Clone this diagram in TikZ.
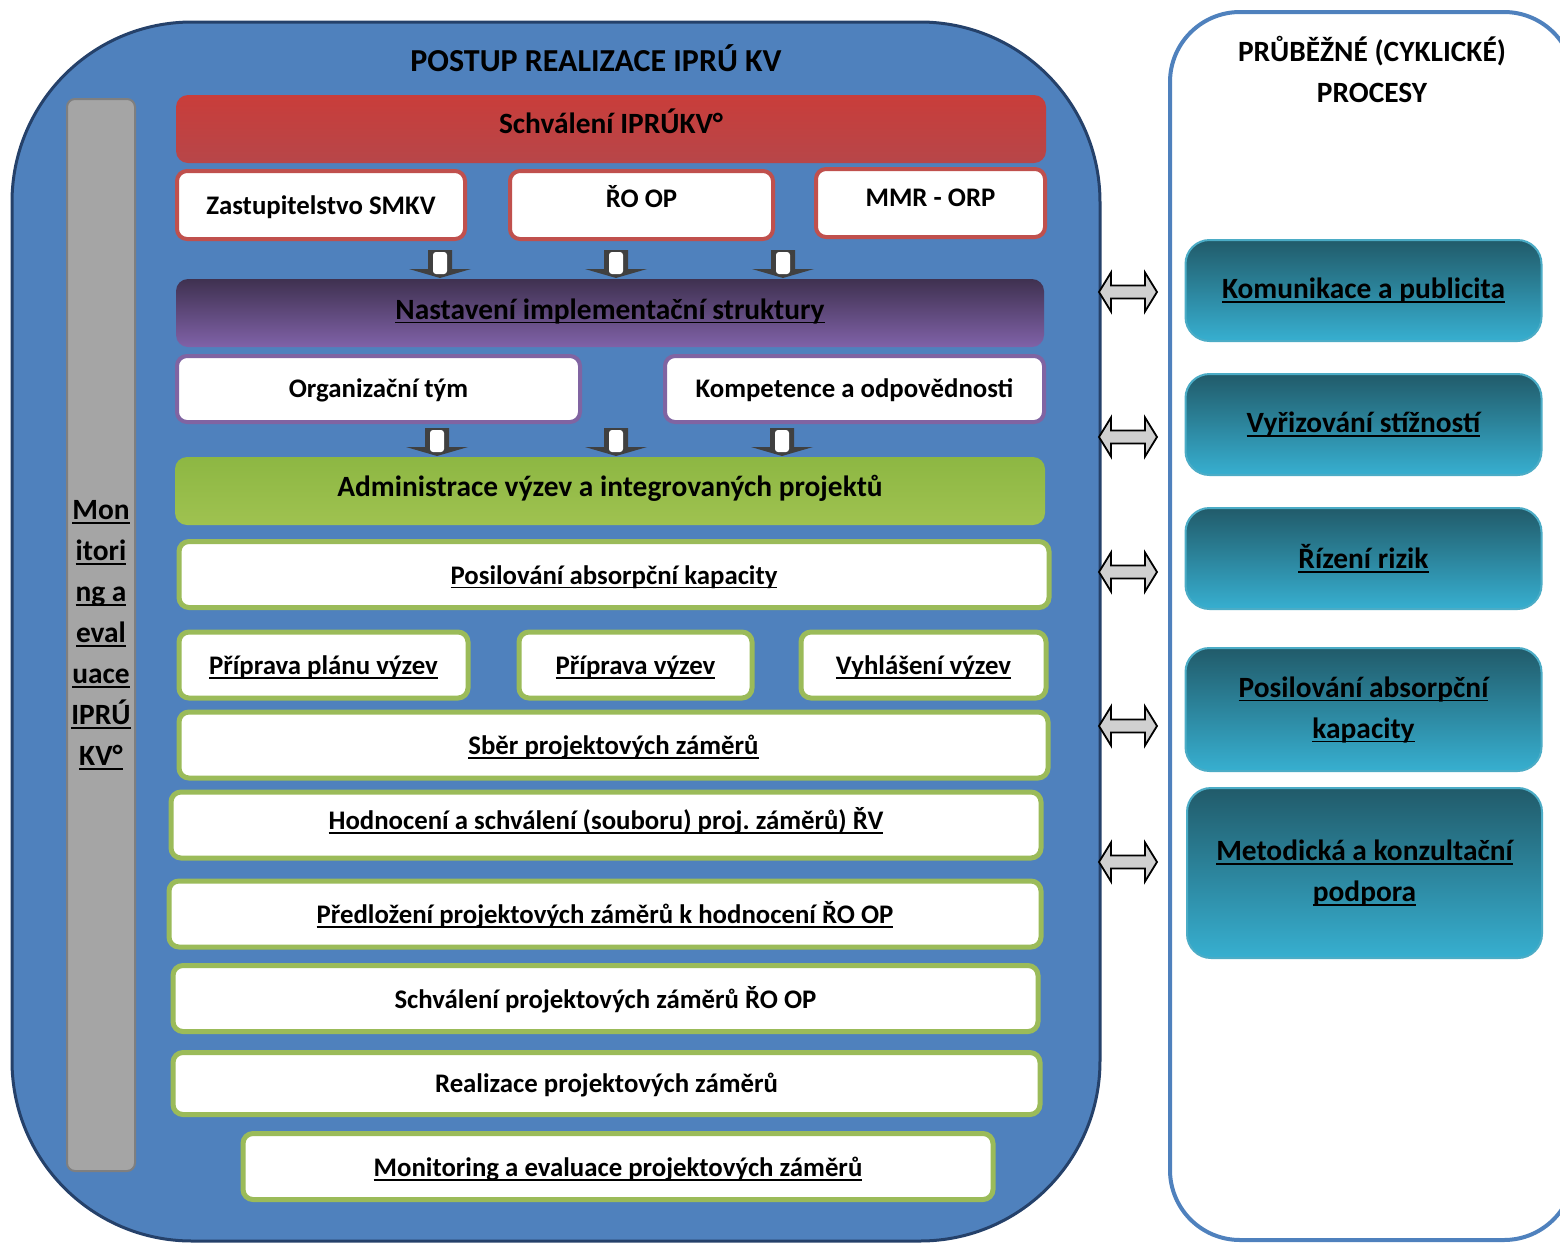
\documentclass[tikz,border=0pt]{standalone}
\usepackage{fontspec}
\setmainfont{Carlito}
\frenchspacing
\definecolor{bluebg}{HTML}{4F81BD}
\definecolor{blueedge}{HTML}{25416A}
\definecolor{redtop}{HTML}{C93D3A}
\definecolor{redbot}{HTML}{B74649}
\definecolor{rededge}{HTML}{C0504D}
\definecolor{purptop}{HTML}{3F3150}
\definecolor{purpbot}{HTML}{8062A8}
\definecolor{purpedge}{HTML}{8064A2}
\definecolor{greentop}{HTML}{8DB743}
\definecolor{greenbot}{HTML}{9FC250}
\definecolor{greenedge}{HTML}{9BBB59}
\definecolor{tealtop}{HTML}{215B6A}
\definecolor{tealbot}{HTML}{37AFD0}
\definecolor{tealedge}{HTML}{4BACC6}
\definecolor{barfill}{HTML}{A5A5A5}
\definecolor{baredge}{HTML}{7F7F7F}
\definecolor{arrdark}{HTML}{404040}
\definecolor{arrfill}{HTML}{D0D0D0}

\newcommand\ulin[1]{\leavevmode\setbox0\hbox{#1}\rlap{\rule[-2.2pt]{\wd0}{0.9pt}}\box0}
\newcommand\dnarr[2]{%
  \fill[arrdark] ({#1-12},#2) -- ({#1+12},#2) -- ({#1+12},{#2+19}) -- ({#1+31},{#2+19})
    -- (#1,{#2+28}) -- ({#1-31},{#2+19}) -- ({#1-12},{#2+19}) -- cycle;
  \fill[white,rounded corners=1.5pt] ({#1-7},{#2+2}) rectangle ({#1+7},{#2+24});}
\newcommand\lrarr[2]{%
  \draw[line width=0.9pt,fill=arrfill] ({#1-29},#2) -- ({#1-17},{#2-19.5}) -- ({#1-17},{#2-6.5})
    -- ({#1+17},{#2-6.5}) -- ({#1+17},{#2-19.5}) -- ({#1+29},#2) -- ({#1+17},{#2+19.5})
    -- ({#1+17},{#2+6.5}) -- ({#1-17},{#2+6.5}) -- ({#1-17},{#2+19.5}) -- cycle;}

\tikzset{
  txt/.style={font=\bfseries\fontsize{14.7}{20.5}\selectfont,align=center,inner sep=0pt},
  wtxt/.style={txt,font=\bfseries\fontsize{13.4}{18}\selectfont},
  bl/.style={text height=#1,text depth=0pt},
  redbar/.style={txt,top color=redtop,bottom color=redbot,rounded corners=6pt,minimum height=34pt},
  redbox/.style={wtxt,fill=white,draw=rededge,line width=2pt,rounded corners=5pt,minimum height=34pt},
  purpbar/.style={txt,top color=purptop,bottom color=purpbot,rounded corners=6pt,minimum height=34pt},
  purpbox/.style={wtxt,fill=white,draw=purpedge,line width=2pt,rounded corners=5pt,minimum height=33pt},
  greenbar/.style={txt,top color=greentop,bottom color=greenbot,rounded corners=6pt,minimum height=34pt},
  greenbox/.style={wtxt,fill=white,draw=greenedge,line width=2.5pt,rounded corners=5pt,minimum height=33pt},
  tealbox/.style={txt,top color=tealtop,bottom color=tealbot,draw=tealedge,line width=1pt,
    rounded corners=12pt,minimum width=178pt},
  graybar/.style={txt,fill=barfill,draw=baredge,line width=1pt,rounded corners=4pt},
}

\begin{document}
\begin{tikzpicture}[x=0.5pt,y=-0.5pt]
  \useasboundingbox (0,0) rectangle (1560,1243);
  \clip (0,0) rectangle (1560,1243);

  \draw[blueedge,line width=1.5pt,fill=bluebg,rounded corners=90pt] (12,22) rectangle (1100,1241);
  \draw[bluebg,line width=2pt,fill=white,rounded corners=35pt] (1170,12) rectangle (1574,1240);

  \node[txt,font=\bfseries\fontsize{16}{20}\selectfont,anchor=base] (title) at (596,71) {POSTUP REALIZACE IPRÚ KV};
  \node[txt] (cyclic) at (1372,69) {PRŮBĚŽNÉ (CYKLICKÉ)\\PROCESY};

  \node[graybar,minimum width=34pt,minimum height=536pt] (monitor) at (101,635)
    {\ulin{Mon}\\\ulin{itori}\\\ulin{ng a}\\\ulin{eval}\\\ulin{uace}\\\ulin{IPRÚ}\\\ulin{KV°}};

  \node[redbar,bl=4.3pt,minimum width=435pt] (schvaleni) at (611,129) {Schválení IPRÚKV°};
  \node[redbox,bl=9pt,minimum width=144pt] (zastup) at (321,205) {Zastupitelstvo SMKV};
  \node[redbox,bl=2.7pt,minimum width=131.5pt] (roop) at (641.5,205) {ŘO OP};
  \node[redbox,bl=3pt,minimum width=114.5pt] (mmr) at (930.5,203) {MMR - ORP};

  \foreach \x in {440,616,783} {\dnarr{\x}{250}}

  \node[purpbar,bl=6pt,minimum width=434pt] (nastaveni) at (610,313) {\ulin{Nastavení implementační struktury}};
  \node[purpbox,bl=8.3pt,minimum width=201.5pt] (orgtym) at (378.5,389) {Organizační tým};
  \node[purpbox,bl=8.3pt,minimum width=189.5pt] (kompet) at (854.5,389) {Kompetence a odpovědnosti};

  \foreach \x in {437,616,782} {\dnarr{\x}{428}}

  \node[greenbar,bl=5.5pt,minimum width=435pt] (admin) at (610,491) {Administrace výzev a integrovaných projektů};
  \node[greenbox,bl=9.5pt,minimum width=435pt] (posil) at (614,574.5) {\ulin{Posilování absorpční kapacity}};
  \node[greenbox,bl=9.5pt,minimum width=144.5pt] (planvyz) at (323.5,665) {\ulin{Příprava plánu výzev}};
  \node[greenbox,bl=9.5pt,minimum width=116.5pt] (pripvyz) at (635.5,665) {\ulin{Příprava výzev}};
  \node[greenbox,bl=9.5pt,minimum width=122.5pt] (vyhlvyz) at (923.5,665) {\ulin{Vyhlášení výzev}};
  \node[greenbox,bl=9.5pt,minimum width=434.5pt] (sber) at (613.5,745) {\ulin{Sběr projektových záměrů}};
  \node[greenbox,bl=4.2pt,minimum width=435pt] (hodnoc) at (606,825) {\ulin{Hodnocení a schválení (souboru) proj. záměrů) ŘV}};
  \node[greenbox,bl=9.5pt,minimum width=436pt] (predloz) at (605,914) {\ulin{Předložení projektových záměrů k hodnocení ŘO OP}};
  \node[greenbox,bl=9.5pt,minimum width=432.5pt] (schvpz) at (605.5,998.5) {Schválení projektových záměrů ŘO OP};
  \node[greenbox,bl=9pt,minimum width=433.5pt,minimum height=31pt] (realiz) at (606.5,1083.5) {Realizace projektových záměrů};
  \node[greenbox,bl=10.2pt,minimum width=375pt] (monev) at (618,1166.5) {\ulin{Monitoring a evaluace projektových záměrů}};

  \node[tealbox,minimum height=50.5pt] (komunik) at (1363.5,290.5) {\ulin{Komunikace a publicita}};
  \node[tealbox,minimum height=50.5pt] (stiznost) at (1363.5,424.5) {\ulin{Vyřizování stížností}};
  \node[tealbox,minimum height=50.5pt] (rizika) at (1363.5,558.5) {\ulin{Řízení rizik}};
  \node[tealbox,minimum height=61.5pt] (absorp) at (1363.5,709.5) {\ulin{Posilování absorpční}\\\ulin{kapacity}};
  \node[tealbox,minimum width=177.5pt,minimum height=85pt] (metod) at (1364.5,873) {\ulin{Metodická a konzultační}\\\ulin{podpora}};

  \foreach \y in {292,437,572,726,862} {\lrarr{1128}{\y}}
\end{tikzpicture}
\end{document}
